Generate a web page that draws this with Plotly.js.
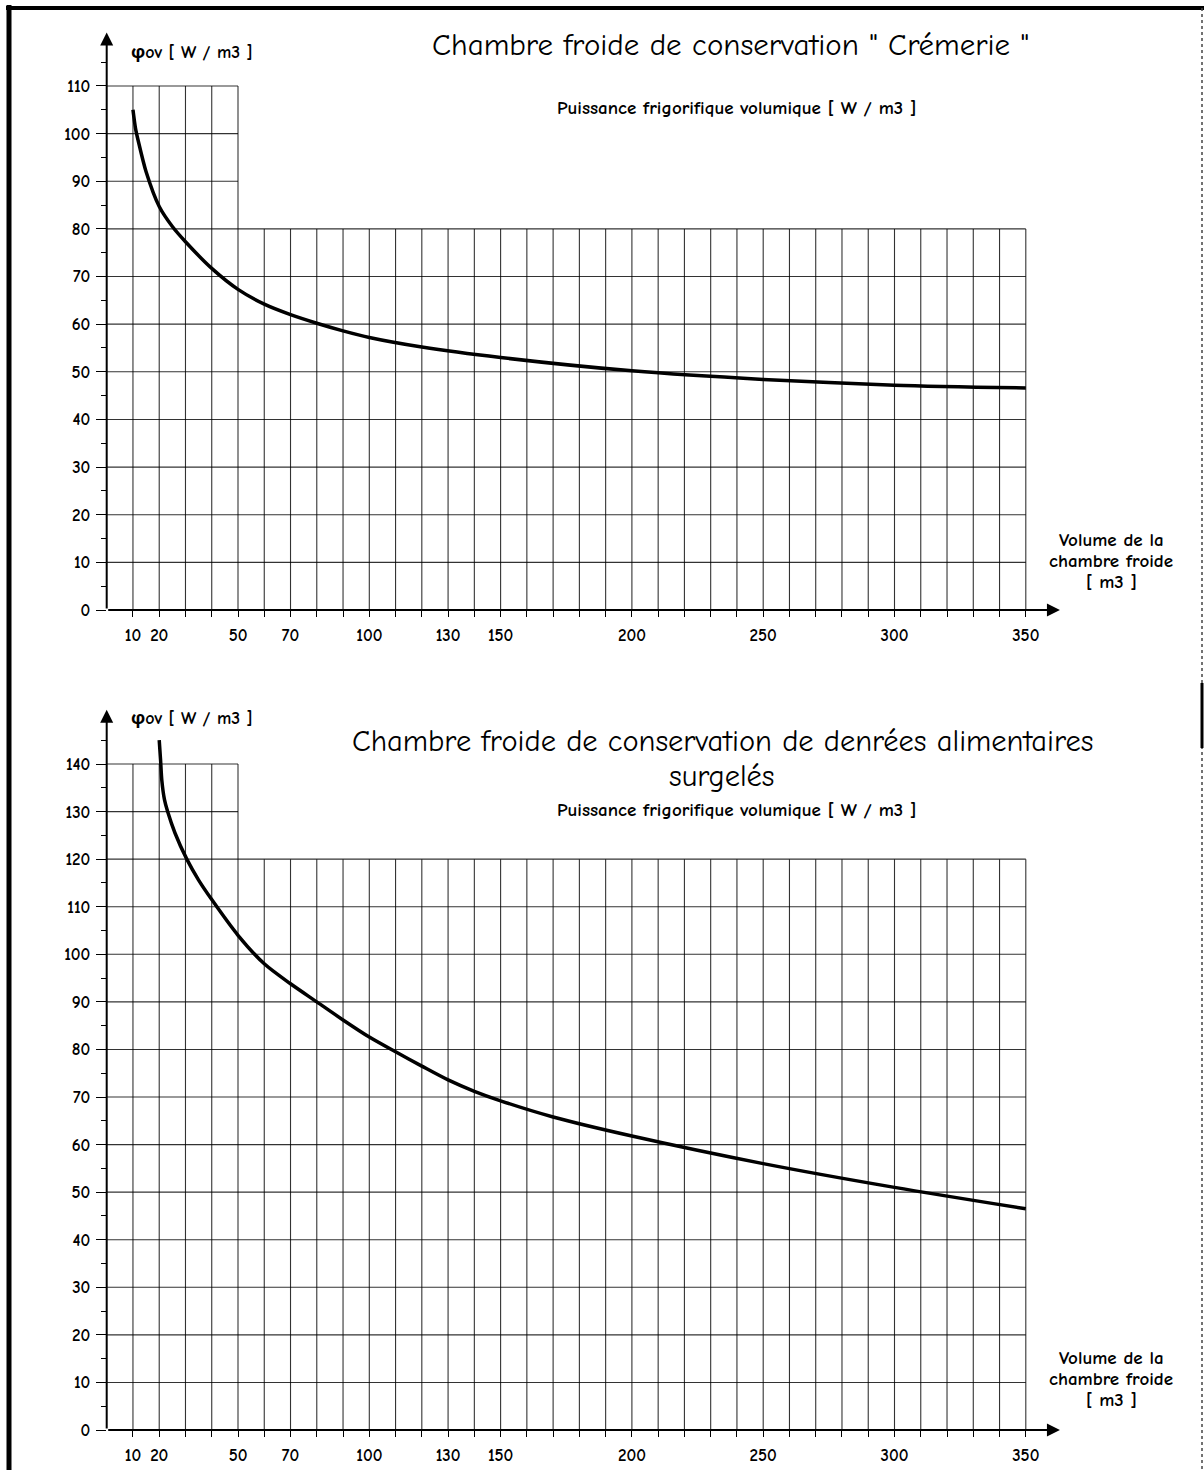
<!DOCTYPE html>
<html><head><meta charset="utf-8">
<script src="https://cdn.plot.ly/plotly-3.0.1.min.js"></script>
<style>html,body{margin:0;padding:0;background:#fff}#chart{width:1204px;height:1470px}</style>
</head><body><div id="chart"></div>
<script>
const FONT = '"Comic Sans MS", "Comic Neue", "Open Sans", sans-serif';

// ---- data ----
const cremerieVolume = [10, 11, 12, 15, 20, 25, 30, 40, 50, 60, 70, 80, 90, 100, 120, 150, 200, 250, 300, 350];
const cremeriePower  = [105, 101, 98.5, 92, 84.7, 80.5, 77.3, 71.7, 67.3, 64.2, 62, 60.2, 58.6, 57.2, 55.2, 53, 50.2, 48.4, 47.2, 46.6];

const surgelesVolume = [20, 20.5, 21, 22, 23.2, 26, 30.5, 35, 40, 50, 60, 70, 80, 90, 100, 110, 120, 130, 140, 150, 170, 200, 250, 300, 350];
const surgelesPower  = [145, 141, 136.5, 132.5, 130, 125.5, 120, 115.6, 111.5, 104, 98, 93.8, 90, 86.2, 82.6, 79.5, 76.5, 73.6, 71.2, 69.2, 65.8, 61.8, 56, 51, 46.5];

const xTickLabels = [10, 20, 50, 70, 100, 130, 150, 200, 250, 300, 350];
const xGridValues = [10,20,30,40,50,60,70,80,90,100,110,120,130,140,150,160,170,180,190,200,210,220,230,240,250,260,270,280,290,300,310,320,330,340,350];
const xTallLimit = 50;

const topYTicks = [0,10,20,30,40,50,60,70,80,90,100,110];
const topYMinor = [5,15,25,35,45,55,65,75,85,95,105,115];
const topLowTop = 80, topHighTop = 110;

const botYTicks = [0,10,20,30,40,50,60,70,80,90,100,110,120,130,140];
const botYMinor = [5,15,25,35,45,55,65,75,85,95,105,115,125,135,145];
const botLowTop = 120, botHighTop = 140;

const titleTop = 'Chambre froide de conservation " Crémerie "';
const titleBot1 = 'Chambre froide de conservation de denrées alimentaires';
const titleBot2 = 'surgelés';
const subTitle = 'Puissance frigorifique volumique [ W / m3 ]';
const yLabel = 'φov [ W / m3 ]';
const xLabelLines = ['Volume de la', 'chambre froide', '[ m3 ]'];

// ---- layout helpers ----
const W = 1204, H = 1470;
const px = v => v / W;
const py = v => 1 - v / H;
const X_MAX = 370;
const xDomain = [px(106.7), px(106.7 + X_MAX * 2.626)];
const TOP_YMAX = 121.2, BOT_YMAX = 151.4;
const topDomain = [py(610), py(610 - TOP_YMAX * 4.764)];
const botDomain = [py(1430), py(1430 - BOT_YMAX * 4.757)];

const gridColor = 'rgba(0,0,0,0.8)';
function gridShapes(xr, yr, lowTop, highTop) {
  const s = [];
  xGridValues.forEach(v => {
    s.push({type:'line', xref:xr, yref:yr, x0:v, x1:v, y0:0, y1:(v <= xTallLimit ? highTop : lowTop),
            line:{color:gridColor, width:1.1}});
  });
  for (let v = 10; v <= highTop; v += 10) {
    s.push({type:'line', xref:xr, yref:yr, x0:0, x1:(v <= lowTop ? xGridValues[xGridValues.length-1] : xTallLimit), y0:v, y1:v,
            line:{color:gridColor, width:1.1}});
  }
  return s;
}

const tickText = xGridValues.map(v => xTickLabels.includes(v) ? '<b>' + v + '</b>' : '');
const tickFont = {family:FONT, size:17, color:'#000'};

function xAxis(anchor) {
  return {domain:xDomain, range:[0, X_MAX], anchor:anchor, showgrid:false, zeroline:false, showline:false,
          tickmode:'array', tickvals:xGridValues, ticktext:tickText, ticks:'outside', ticklen:6, tickwidth:1, tickcolor:'#000',
          ticklabelstandoff:4, tickfont:tickFont, fixedrange:true};
}
function yAxis(anchor, domain, ymax, major, minor) {
  return {domain:domain, range:[0, ymax], anchor:anchor, showgrid:false, zeroline:false, showline:false,
          tickmode:'array', tickvals:major, ticktext:major.map(v => '<b>' + v + '</b>'), ticks:'outside', ticklen:10, tickwidth:1, tickcolor:'#000',
          minor:{tickmode:'array', tickvals:minor, ticks:'outside', ticklen:5, tickwidth:1, tickcolor:'#000'},
          ticklabelstandoff:2, tickfont:tickFont, fixedrange:true};
}

const traces = [
  {x:cremerieVolume, y:cremeriePower, xaxis:'x', yaxis:'y', mode:'lines', line:{color:'#000', width:3.5, shape:'spline', smoothing:0.8}, hoverinfo:'skip'},
  {x:surgelesVolume, y:surgelesPower, xaxis:'x2', yaxis:'y2', mode:'lines', line:{color:'#000', width:3.5, shape:'spline', smoothing:0.8}, hoverinfo:'skip'}
];

function arrow(xr, yr, x0, y0, x1, y1) {
  return {xref:xr, yref:yr, axref:xr, ayref:yr, x:x1, y:y1, ax:x0, ay:y0, text:'', showarrow:true,
          arrowhead:2, arrowsize:1.3, arrowwidth:2, arrowcolor:'#000', standoff:0, startstandoff:0};
}
const boldFont = size => ({family:FONT, size:size, color:'#000', weight:'bold'});
function txt(text, x, y, size, bold) {
  return {xref:'paper', yref:'paper', x:px(x), y:py(y), text:text, showarrow:false,
          xanchor:'center', yanchor:'middle', font:(bold ? boldFont(size) : {family:FONT, size:size, color:'#000'})};
}
function xLabelAnn(centerY) {
  return xLabelLines.map((t, i) => txt(t, 1111, centerY + (i - 1) * 21, 19, true));
}

const annotations = [
  arrow('x', 'y', 0, 0, 363, 0),
  arrow('x', 'y', 0, 0, 0, TOP_YMAX),
  arrow('x2', 'y2', 0, 0, 363, 0),
  arrow('x2', 'y2', 0, 0, 0, BOT_YMAX),
  txt(titleTop, 731, 45, 31, false),
  txt(subTitle, 736, 108, 19, true),
  txt(yLabel, 192, 52, 18, true),
  txt(titleBot1, 722, 741, 30.5, false),
  txt(titleBot2, 722, 776, 30.5, false),
  txt(subTitle, 736, 810, 19, true),
  txt(yLabel, 192, 718, 18, true)
].concat(xLabelAnn(561), xLabelAnn(1379));

const frame = [
  {type:'line', xref:'paper', yref:'paper', x0:px(9), x1:px(9), y0:py(5), y1:py(1470), line:{color:'#000', width:5}},
  {type:'line', xref:'paper', yref:'paper', x0:px(6), x1:px(1204), y0:py(8), y1:py(8), line:{color:'#000', width:4}},
  {type:'line', xref:'paper', yref:'paper', x0:px(1202), x1:px(1202), y0:py(8), y1:py(1470), line:{color:'#444', width:1.5, dash:'dot'}},
  {type:'line', xref:'paper', yref:'paper', x0:px(1202), x1:px(1202), y0:py(683), y1:py(748), line:{color:'#000', width:3}}
];

const layout = {
  width:W, height:H, margin:{l:0, r:0, t:0, b:0}, paper_bgcolor:'#fff', plot_bgcolor:'rgba(0,0,0,0)',
  showlegend:false,
  xaxis:xAxis('y'), yaxis:yAxis('x', topDomain, TOP_YMAX, topYTicks, topYMinor),
  xaxis2:xAxis('y2'), yaxis2:yAxis('x2', botDomain, BOT_YMAX, botYTicks, botYMinor),
  shapes:[].concat(gridShapes('x', 'y', topLowTop, topHighTop), gridShapes('x2', 'y2', botLowTop, botHighTop), frame),
  annotations:annotations
};

Plotly.newPlot('chart', traces, layout, {staticPlot:true, displayModeBar:false});
</script></body></html>
